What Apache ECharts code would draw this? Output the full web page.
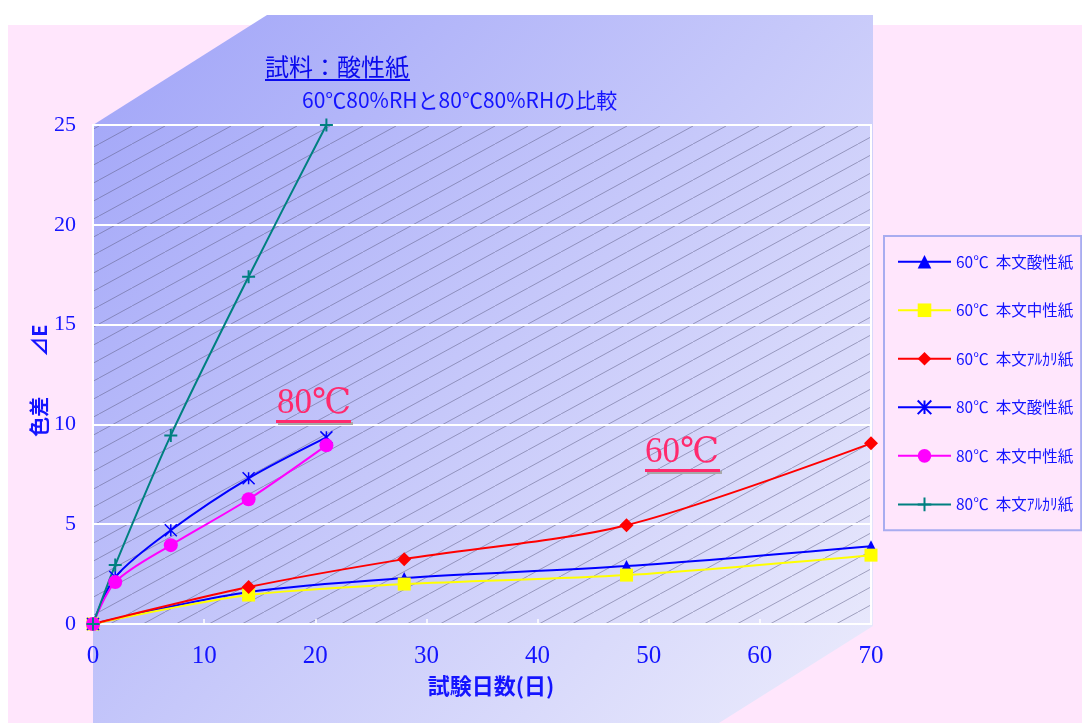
<!DOCTYPE html>
<html>
<head>
<meta charset="utf-8">
<script src="https://cdn.jsdelivr.net/npm/echarts@6/dist/echarts.min.js"></script>
<style>
  html, body { margin: 0; padding: 0; background: #ffffff; }
  #chart { width: 1082px; height: 723px; }
</style>
</head>
<body>
<div id="chart"></div>
<script>
// Test days for each temperature condition
const days60 = [0, 14, 28, 48, 70];
const days80 = [0, 2, 7, 14, 21];

// Colour difference ⊿E per sample
const acid60    = [0, 1.6, 2.3, 2.9, 3.9];
const neutral60 = [0, 1.45, 2.0, 2.45, 3.45];
const alkali60  = [0, 1.85, 3.25, 4.95, 9.05];
const acid80    = [0, 2.35, 4.7, 7.3, 9.35];
const neutral80 = [0, 2.1, 3.95, 6.25, 8.95];
const alkali80  = [0, 2.95, 9.45, 17.4, 25];

// Series names shown in the legend
const seriesNames = [
  '60℃  本文酸性紙', '60℃  本文中性紙', '60℃  本文ｱﾙｶﾘ紙',
  '80℃  本文酸性紙', '80℃  本文中性紙', '80℃  本文ｱﾙｶﾘ紙'
];

// Axis ranges
const xRange = { min: 0, max: 70, step: 10 };
const yRange = { min: 0, max: 25, step: 5 };

const titleText = '試料：酸性紙';
const subtitleText = '60℃80%RHと80℃80%RHの比較';
const xName = '試験日数(日)';
const yName = '色差　　⊿E';

const BLUE_TEXT = '#1414ff';
const CJK = "'Noto Sans CJK JP', 'Noto Sans', sans-serif";
const SERIF = "'Liberation Serif', 'DejaVu Serif', serif";

// Diagonal hatch tile for the plot area
function hatchTile() {
  const W = 33, H = 18;
  const c = document.createElement('canvas');
  c.width = W; c.height = H;
  const g = c.getContext('2d');
  g.strokeStyle = 'rgba(90,90,130,0.5)';
  g.lineWidth = 1;
  [-W, 0, W].forEach(function (dx) {
    g.beginPath();
    g.moveTo(dx, H);
    g.lineTo(dx + W, 0);
    g.stroke();
  });
  return c;
}

function pairs(xs, ys) {
  return xs.map(function (x, i) { return [x, ys[i]]; });
}

const ASTERISK = 'path://M0,0 L20,20 M0,20 L20,0 M10,0 L10,20';
const PLUS = 'path://M0,10 L20,10 M10,0 L10,20';

function lineSeries(name, xs, ys, color, symbol, size, extraItem) {
  return {
    name: name,
    type: 'line',
    smooth: 0.3,
    data: pairs(xs, ys),
    symbol: symbol,
    symbolSize: size,
    showAllSymbol: true,
    lineStyle: { color: color, width: 2 },
    itemStyle: Object.assign({ color: color, opacity: 1 }, extraItem || {}),
    emphasis: { disabled: true },
    animation: false
  };
}

const chart = echarts.init(document.getElementById('chart'), null, { renderer: 'canvas' });

const blueWash = {
  type: 'linear', x: 93, y: 15, x2: 873, y2: 723, global: true,
  colorStops: [
    { offset: 0, color: '#a0a4f8' },
    { offset: 1, color: '#ececfc' }
  ]
};

const option = {
  backgroundColor: '#ffffff',
  animation: false,
  grid: {
    left: 93, right: 211, top: 125, bottom: 99,
    show: true,
    backgroundColor: { image: hatchTile(), repeat: 'repeat' },
    borderColor: '#ffffff',
    borderWidth: 2
  },
  xAxis: {
    type: 'value',
    min: xRange.min, max: xRange.max, interval: xRange.step,
    axisLine: { show: true, lineStyle: { color: '#ffffff', width: 2 } },
    axisTick: { show: true, inside: true, length: 5, lineStyle: { color: '#ffffff', width: 1.5 } },
    splitLine: { show: false },
    axisLabel: { color: BLUE_TEXT, fontFamily: SERIF, fontSize: 25, margin: 20 },
    name: xName,
    nameLocation: 'middle',
    nameGap: 51,
    nameMoveOverlap: false,
    nameTextStyle: { color: BLUE_TEXT, fontFamily: CJK, fontWeight: 'bold', fontSize: 22, padding: [0, 0, 0, 18] }
  },
  yAxis: {
    type: 'value',
    min: yRange.min, max: yRange.max, interval: yRange.step,
    axisLine: { show: false },
    axisTick: { show: false },
    splitLine: { show: true, lineStyle: { color: '#ffffff', width: 2 } },
    axisLabel: { color: BLUE_TEXT, fontFamily: SERIF, fontSize: 22, margin: 17 },
    name: yName,
    nameLocation: 'middle',
    nameGap: 44,
    nameMoveOverlap: false,
    nameTextStyle: { color: BLUE_TEXT, fontFamily: CJK, fontWeight: 'bold', fontSize: 20, padding: [0, 12, 0, 0] }
  },
  legend: {
    orient: 'vertical',
    left: 884, top: 236,
    padding: [18, 8, 18, 13],
    itemWidth: 53, itemHeight: 17, itemGap: 33,
    borderColor: '#a8acf0', borderWidth: 2,
    backgroundColor: '#ffe6fc',
    textStyle: { color: BLUE_TEXT, fontFamily: CJK, fontSize: 15.5 },
    data: seriesNames
  },
  graphic: [
    { type: 'rect', z: -20, silent: true, shape: { x: 8, y: 25, width: 1074, height: 698 }, style: { fill: '#ffe6fc' } },
    {
      type: 'polygon', z: -19, silent: true,
      shape: { points: [[93, 125], [267, 15], [873, 15], [873, 626], [719, 723], [93, 723]] },
      style: { fill: blueWash }
    },
    { type: 'text', z: 50, silent: true, style: { text: titleText, x: 265, y: 67, verticalAlign: 'middle', font: "24px " + CJK, fill: '#0a0aee' } },
    { type: 'rect', z: 50, silent: true, shape: { x: 265, y: 79, width: 145, height: 2 }, style: { fill: '#0a0aee' } },
    { type: 'text', z: 50, silent: true, style: { text: subtitleText, x: 302, y: 100, verticalAlign: 'middle', font: "21px " + CJK, fill: BLUE_TEXT } },
    // temperature annotations
    {
      type: 'text', z: 50, silent: true,
      style: { text: '80℃', x: 277, y: 404, verticalAlign: 'middle', font: "35px " + SERIF, fill: '#ff2a6e',
               shadowColor: '#a8a8a8', shadowOffsetX: 2, shadowOffsetY: 2, shadowBlur: 0 }
    },
    {
      type: 'rect', z: 50, silent: true, shape: { x: 276, y: 420, width: 75, height: 3 },
      style: { fill: '#ff2a6e', shadowColor: '#a8a8a8', shadowOffsetX: 2, shadowOffsetY: 2, shadowBlur: 0 }
    },
    {
      type: 'text', z: 50, silent: true,
      style: { text: '60℃', x: 645, y: 453, verticalAlign: 'middle', font: "35px " + SERIF, fill: '#ff2a6e',
               shadowColor: '#a8a8a8', shadowOffsetX: 2, shadowOffsetY: 2, shadowBlur: 0 }
    },
    {
      type: 'rect', z: 50, silent: true, shape: { x: 645, y: 469, width: 75, height: 3 },
      style: { fill: '#ff2a6e', shadowColor: '#a8a8a8', shadowOffsetX: 2, shadowOffsetY: 2, shadowBlur: 0 }
    }
  ],
  series: [
    lineSeries(seriesNames[0], days60, acid60, '#0000ff', 'triangle', 12),
    lineSeries(seriesNames[1], days60, neutral60, '#ffff00', 'rect', 13),
    lineSeries(seriesNames[2], days60, alkali60, '#ff0000', 'diamond', 14),
    lineSeries(seriesNames[3], days80, acid80, '#0000ff', ASTERISK, 12, { borderColor: '#0000ff', borderWidth: 1.5 }),
    lineSeries(seriesNames[4], days80, neutral80, '#ff00ff', 'circle', 14),
    lineSeries(seriesNames[5], days80, alkali80, '#008080', PLUS, 13, { borderColor: '#008080', borderWidth: 2 })
  ]
};

chart.setOption(option);
</script>
</body>
</html>
